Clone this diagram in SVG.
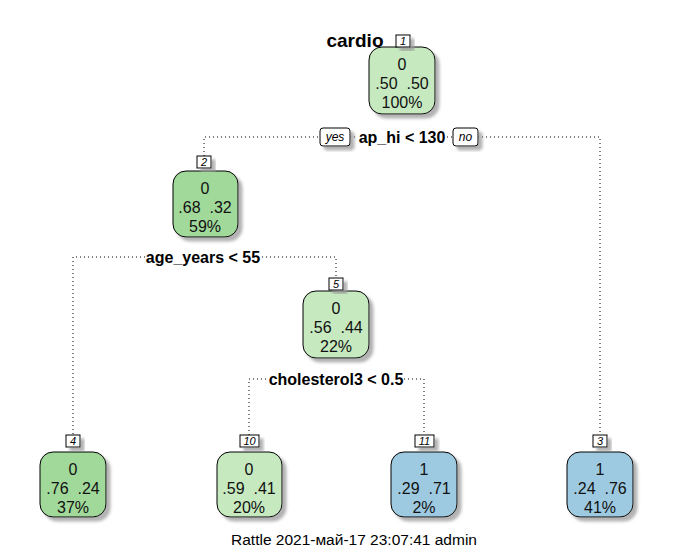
<svg xmlns="http://www.w3.org/2000/svg" width="673" height="550" viewBox="0 0 673 550">
<defs>
<filter id="sh" x="-20%" y="-20%" width="150%" height="150%">
<feGaussianBlur in="SourceAlpha" stdDeviation="1.5"/>
<feOffset dx="4" dy="4" result="b"/>
<feFlood flood-color="#999" flood-opacity="0.75"/>
<feComposite in2="b" operator="in"/>
<feMerge><feMergeNode/><feMergeNode in="SourceGraphic"/></feMerge>
</filter>
</defs>
<style>
.box{stroke:#000;stroke-width:1;filter:url(#sh)}
.g1{fill:#c7e9c0}
.g2{fill:#a1d99b}
.b1{fill:#9ecae1}
.lab{fill:#fff;stroke:#000;stroke-width:1;filter:url(#sh)}
.num{font-family:"Liberation Sans",Arial,sans-serif;font-size:11px;font-style:italic;fill:#000;text-anchor:middle}
.t{font-family:"Liberation Sans",Arial,sans-serif;font-size:16px;fill:#111;text-anchor:middle;white-space:pre}
.sp{font-family:"Liberation Sans",Arial,sans-serif;font-size:16px;font-weight:bold;fill:#000;text-anchor:middle}
.yn{font-family:"Liberation Sans",Arial,sans-serif;font-size:12px;font-style:italic;fill:#000;text-anchor:middle}
.ln{fill:none;stroke:#000;stroke-width:1;stroke-dasharray:1 3}
</style>
<rect width="673" height="550" fill="#fff"/>
<g id="connectors">
<path class="ln" d="M204,156 V137 H320"/>
<path class="ln" d="M350,137 H357"/>
<path class="ln" d="M447,137 H453"/>
<path class="ln" d="M478,137 H600 V434"/>
<path class="ln" d="M73,434 V257 H145"/>
<path class="ln" d="M262,257 H336 V278"/>
<path class="ln" d="M249,435 V379 H268"/>
<path class="ln" d="M404,379 H424 V435"/>
</g>
<g id="title">
<text x="355" y="47" font-family="Liberation Sans,Arial,sans-serif" font-size="19" font-weight="bold" text-anchor="middle" fill="#000">cardio</text>
</g>
<g id="node1">
<rect class="box g1" x="369" y="47" width="66" height="67" rx="13"/>
<rect class="lab" x="396" y="35" width="14" height="12"/>
<text class="num" x="403" y="45">1</text>
<text class="t" x="402" y="70">0</text>
<text class="t" x="402" y="89" xml:space="preserve">.50  .50</text>
<text class="t" x="402" y="108">100%</text>
</g>
<g id="split1">
<rect class="lab" x="320" y="128" width="30" height="18" rx="3"/>
<text class="yn" x="335" y="141">yes</text>
<text class="sp" x="402" y="143">ap_hi &lt; 130</text>
<rect class="lab" x="453" y="128" width="25" height="18" rx="3"/>
<text class="yn" x="465.5" y="141">no</text>
</g>
<g id="node2">
<rect class="box g2" x="173" y="171" width="65" height="66" rx="13"/>
<rect class="lab" x="197" y="156" width="14" height="12"/>
<text class="num" x="204" y="166">2</text>
<text class="t" x="205" y="194">0</text>
<text class="t" x="205" y="213" xml:space="preserve">.68  .32</text>
<text class="t" x="205" y="232">59%</text>
<text class="sp" x="203" y="263">age_years &lt; 55</text>
</g>
<g id="node5">
<rect class="box g1" x="303" y="291" width="66" height="67" rx="13"/>
<rect class="lab" x="329" y="278" width="14" height="12"/>
<text class="num" x="336" y="288">5</text>
<text class="t" x="336" y="314">0</text>
<text class="t" x="336" y="333" xml:space="preserve">.56  .44</text>
<text class="t" x="336" y="352">22%</text>
<text class="sp" x="336" y="385">cholesterol3 &lt; 0.5</text>
</g>
<g id="node4">
<rect class="box g2" x="40" y="452" width="66" height="65" rx="13"/>
<rect class="lab" x="66" y="435" width="14" height="12"/>
<text class="num" x="73" y="445">4</text>
<text class="t" x="73" y="475">0</text>
<text class="t" x="73" y="494" xml:space="preserve">.76  .24</text>
<text class="t" x="73" y="513">37%</text>
</g>
<g id="node10">
<rect class="box g1" x="217" y="452" width="65" height="65" rx="13"/>
<rect class="lab" x="240" y="435" width="19" height="12"/>
<text class="num" x="249.5" y="445">10</text>
<text class="t" x="249" y="475">0</text>
<text class="t" x="249" y="494" xml:space="preserve">.59  .41</text>
<text class="t" x="249" y="513">20%</text>
</g>
<g id="node11">
<rect class="box b1" x="391" y="452" width="66" height="65" rx="13"/>
<rect class="lab" x="415" y="435" width="19" height="12"/>
<text class="num" x="424.5" y="445">11</text>
<text class="t" x="424" y="475">1</text>
<text class="t" x="424" y="494" xml:space="preserve">.29  .71</text>
<text class="t" x="424" y="513">2%</text>
</g>
<g id="node3">
<rect class="box b1" x="567" y="452" width="66" height="65" rx="13"/>
<rect class="lab" x="593" y="435" width="14" height="12"/>
<text class="num" x="600" y="445">3</text>
<text class="t" x="600" y="475">1</text>
<text class="t" x="600" y="494" xml:space="preserve">.24  .76</text>
<text class="t" x="600" y="513">41%</text>
</g>
<g id="footer">
<text x="354" y="545" font-family="Liberation Sans,Arial,sans-serif" font-size="15.5" text-anchor="middle" fill="#000">Rattle 2021-май-17 23:07:41 admin</text>
</g>
</svg>
